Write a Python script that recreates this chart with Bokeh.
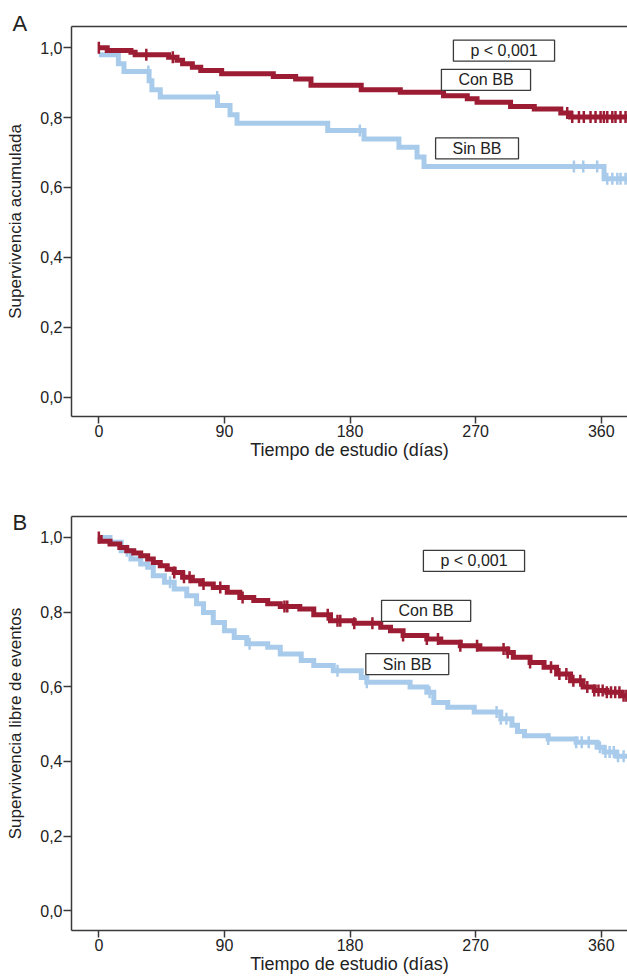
import numpy as np
from bokeh.plotting import figure
from bokeh.models import Range1d, FixedTicker, LinearAxis, Label
from bokeh.layouts import column
from bokeh.embed import file_html
from bokeh.resources import INLINE

# ---------------- data ----------------
x_ticks = [0, 90, 180, 270, 360]
y_ticks = [0.0, 0.2, 0.4, 0.6, 0.8, 1.0]
y_tick_labels = ["0,0", "0,2", "0,4", "0,6", "0,8", "1,0"]
x_title = "Tiempo de estudio (días)"
followup_end = 380

# Panel A - Supervivencia acumulada
a_con_t = [0, 6, 23, 26, 50, 56, 60, 67, 73, 88, 125, 141, 152, 188, 216, 247, 264, 271, 295, 312, 331, 338]
a_con_s = [1.0, 0.992, 0.987, 0.980, 0.973, 0.964, 0.954, 0.944, 0.935, 0.926, 0.918, 0.911, 0.893,
           0.880, 0.873, 0.863, 0.854, 0.844, 0.832, 0.825, 0.813, 0.802]
a_con_cens = [0, 34, 53, 335.6, 339.2, 344, 347.5, 352.3, 355.9, 359.5, 361.9, 364.3, 367.9, 370.2, 373.8, 377.4]

a_sin_t = [0, 14, 18, 36, 38, 44, 85, 94, 99, 164, 190, 215, 228, 233, 362]
a_sin_s = [0.980, 0.954, 0.932, 0.906, 0.880, 0.859, 0.835, 0.808, 0.784, 0.763, 0.739, 0.715, 0.687, 0.660, 0.625]
a_sin_cens = [35.5, 84.8, 187, 340.4, 347.1, 357.1, 364.3, 367.9, 371.5, 373.8, 377.4]

# Panel B - Supervivencia libre de eventos
b_con_t = [0, 1, 8, 15, 20, 25, 30, 35, 39, 44, 49, 54, 60, 67, 73, 82, 92, 101, 111, 121, 130, 144,
           154, 166, 183, 202, 209, 218, 235, 245, 259, 273, 293, 297, 309, 319, 328, 338, 347, 355, 364, 374]
b_con_s = [1.0, 0.990, 0.982, 0.973, 0.964, 0.958, 0.951, 0.942, 0.933, 0.924, 0.915, 0.906, 0.893, 0.884,
           0.875, 0.866, 0.853, 0.839, 0.831, 0.822, 0.815, 0.808, 0.793, 0.777, 0.770, 0.759, 0.750, 0.737,
           0.728, 0.719, 0.710, 0.701, 0.692, 0.679, 0.665, 0.652, 0.634, 0.616, 0.599, 0.590, 0.585, 0.576]
b_con_cens = [0, 54, 61, 65, 75, 87, 103, 133, 135, 164, 171, 173, 183, 196, 218, 235, 243, 259, 271, 290,
              293, 309, 324, 330, 335, 340, 345, 350, 355, 358, 361, 364, 367, 370, 373, 376, 378]

b_sin_t = [0, 8, 16, 23, 30, 35, 39, 47, 54, 63, 70, 75, 82, 90, 97, 106, 121, 130, 145, 154, 168, 188,
           192, 223, 235, 240, 250, 269, 288, 296, 300, 305, 322, 342, 357, 362, 371]
b_sin_s = [1.0, 0.987, 0.964, 0.942, 0.929, 0.920, 0.897, 0.880, 0.862, 0.844, 0.822, 0.799, 0.772, 0.750,
           0.732, 0.715, 0.706, 0.688, 0.670, 0.657, 0.643, 0.625, 0.612, 0.599, 0.585, 0.558, 0.545, 0.532,
           0.514, 0.497, 0.480, 0.469, 0.460, 0.451, 0.438, 0.425, 0.414]
b_sin_cens = [20, 51, 108, 171, 192, 237, 285, 288, 292, 322, 342, 346, 351, 359, 363, 366, 369, 372, 376]

RED = "#9c1c33"
BLUE = "#a9cbeb"
AXIS = "#3a3a3a"
TXT = "#222222"
FONT = "Liberation Sans"


def step_at(times, surv, t):
    idx = np.searchsorted(np.asarray(times, dtype=float), np.asarray(t, dtype=float), side="right") - 1
    idx = np.clip(idx, 0, len(surv) - 1)
    return list(np.asarray(surv)[idx])


def make_panel(letter, ylabel, yr, frame_h, top_b, bot_b, curves, boxes, letter_y):
    p = figure(frame_width=556, frame_height=frame_h, min_border_left=71, min_border_right=0,
               min_border_top=top_b, min_border_bottom=bot_b, output_backend="svg",
               toolbar_location=None, title=None,
               x_range=Range1d(-19.6, 378.8), y_range=Range1d(*yr))
    p.outline_line_color = None
    p.grid.visible = False
    p.background_fill_color = "white"
    p.border_fill_color = "white"

    for ax in (p.xaxis[0], p.yaxis[0]):
        ax.axis_line_color = AXIS
        ax.axis_line_width = 1.5
        ax.major_tick_line_color = AXIS
        ax.major_tick_line_width = 1.5
        ax.major_tick_in = 0
        ax.minor_tick_line_color = None
        ax.major_label_text_font = FONT
        ax.major_label_text_font_size = "16px"
        ax.major_label_text_color = TXT
        ax.axis_label_text_font = FONT
        ax.axis_label_text_font_style = "normal"
        ax.axis_label_text_color = TXT

    p.xaxis.ticker = FixedTicker(ticks=x_ticks)
    p.xaxis.axis_label = x_title
    p.xaxis.axis_label_text_font_size = "18px"
    p.xaxis.major_tick_out = 7
    p.xaxis.major_label_standoff = 1
    p.xaxis.axis_label_standoff = 0
    p.yaxis.ticker = FixedTicker(ticks=y_ticks)
    p.yaxis.major_label_overrides = {v: s for v, s in zip(y_ticks, y_tick_labels)}
    p.yaxis.axis_label = ylabel
    p.yaxis.axis_label_text_font_size = "17px"
    p.yaxis.major_tick_out = 8
    p.yaxis.major_label_standoff = 1
    p.yaxis.axis_label_standoff = 12

    top = LinearAxis(ticker=FixedTicker(ticks=[]), axis_line_color=AXIS, axis_line_width=1.5,
                     major_tick_line_color=None, minor_tick_line_color=None, major_tick_out=0,
                     major_tick_in=0, major_label_text_font_size="0px", major_label_standoff=0)
    p.add_layout(top, "above")

    for times, surv, cens, color in curves:
        xs = list(times) + [followup_end]
        ys = list(surv) + [surv[-1]]
        p.step(x=xs, y=ys, mode="after", line_width=5, line_color=color, line_join="miter")
        p.scatter(x=cens, y=step_at(times, surv, cens), marker="dash", angle=np.pi / 2,
                  size=12, line_width=2.5, line_color=color)

    for bx, by, text in boxes:
        p.add_layout(Label(x=bx, y=by, text=text, text_align="center", text_baseline="middle",
                           text_font=FONT, text_font_size="16px", text_color=TXT,
                           background_fill_color="white", border_line_color=AXIS,
                           border_line_width=1.3, padding=(17, 17, 2, 2)))

    p.add_layout(Label(x=-61.8, y=letter_y, text=letter, text_align="left", text_baseline="middle",
                       text_font=FONT, text_font_size="22px", text_color=TXT), "above")
    return p


pA = make_panel("A", "Supervivencia acumulada", (-0.0558, 1.061), 390, 26, 54,
                [(a_sin_t, a_sin_s, a_sin_cens, BLUE), (a_con_t, a_con_s, a_con_cens, RED)],
                [(290.3, 0.9917, "p < 0,001"), (277.4, 0.9084, "Con BB"), (271.0, 0.7122, "Sin BB")],
                1.0696)
pB = make_panel("B", "Supervivencia libre de eventos", (-0.053, 1.056), 414, 46, 49,
                [(b_sin_t, b_sin_s, b_sin_cens, BLUE), (b_con_t, b_con_s, b_con_cens, RED)],
                [(268.8, 0.9371, "p < 0,001"), (234.5, 0.8033, "Con BB"), (221.0, 0.6606, "Sin BB")],
                1.0394)

layout = column(pA, pB, spacing=0)
open("out.html", "w").write(file_html(layout, INLINE))
